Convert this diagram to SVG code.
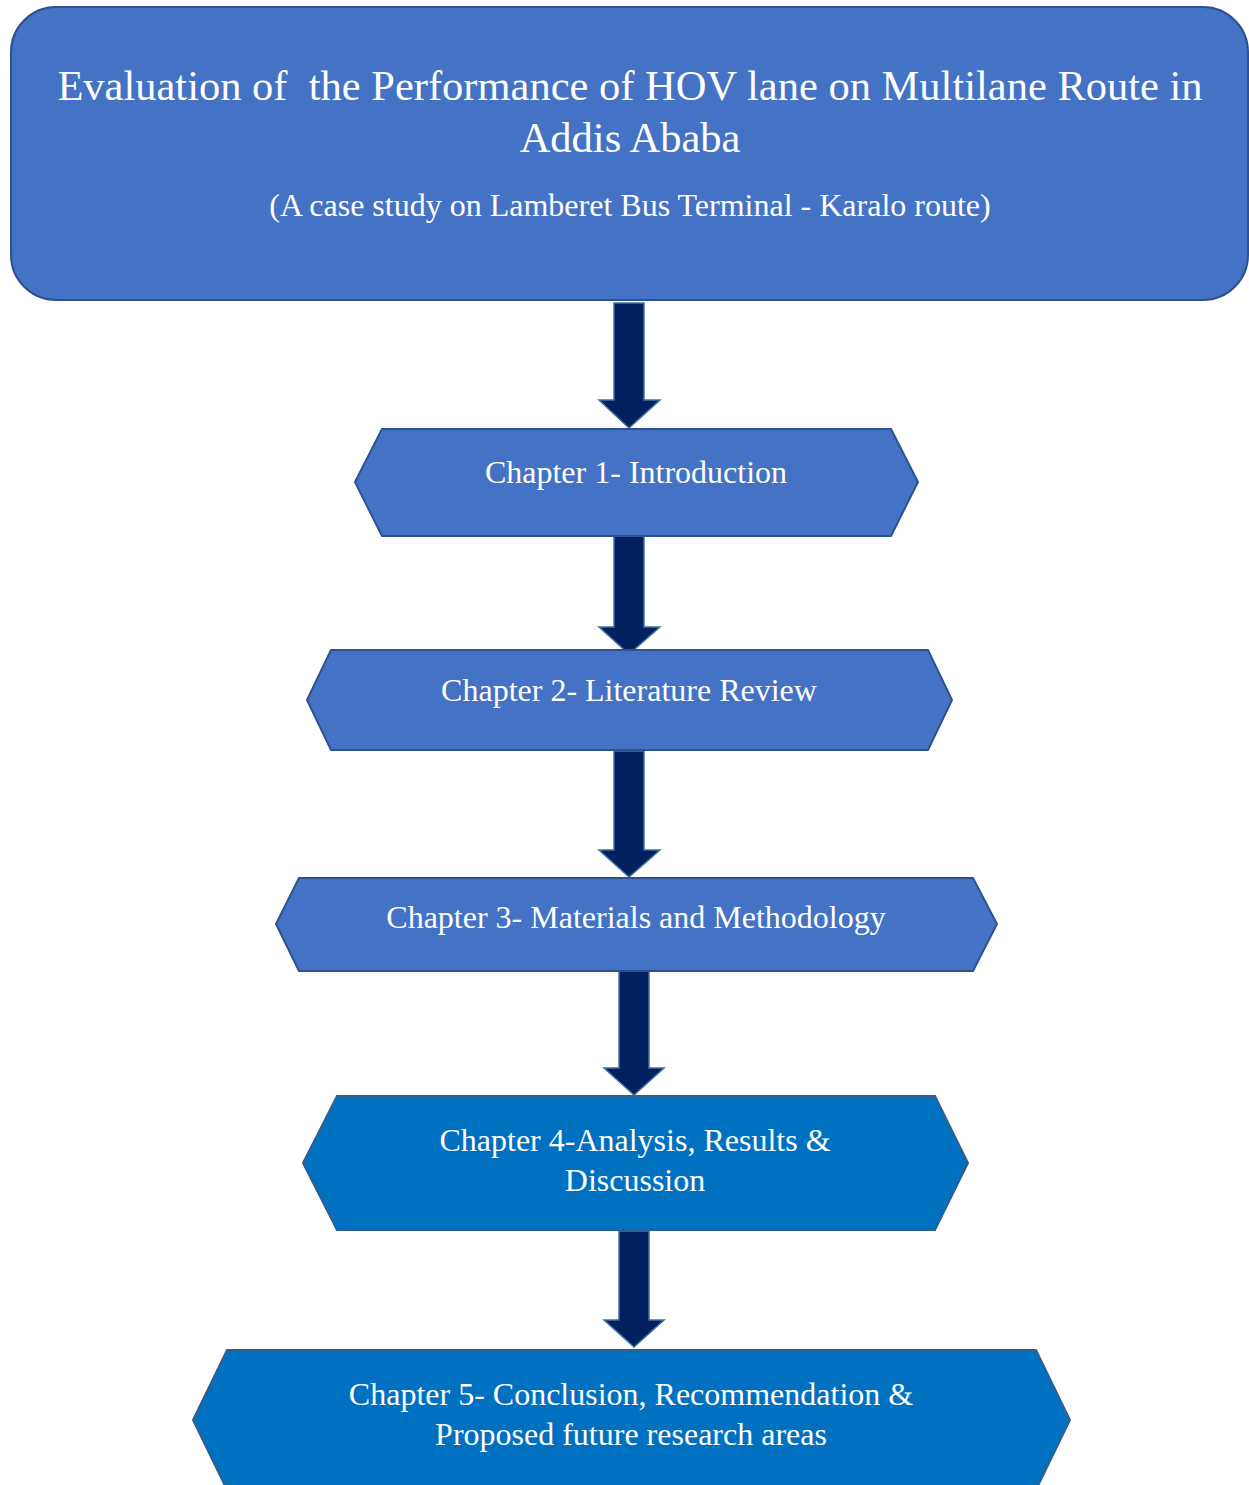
<svg xmlns="http://www.w3.org/2000/svg" width="1249" height="1485" viewBox="0 0 1249 1485">
<style>
.box{fill:#4472C4;stroke:#2F528F;stroke-width:2}
.box2{fill:#0070C0;stroke:#2F5F8F;stroke-width:2}
.arr{fill:#002060;stroke:#41719C;stroke-width:1.5}
text{font-family:"Liberation Serif","Times New Roman",serif;fill:#FFFFFF;text-anchor:middle;white-space:pre}
.t1{font-size:42.5px}
.t2{font-size:32px}
.t3{font-size:32px}
</style>
<rect width="1249" height="1485" fill="#FFFFFF"/>
<g id="connectors">
<path class="arr" d="M614,303 H644 V400 H660 L629,428 L599,400 H614 Z"/>
<path class="arr" d="M614,531 H644 V627 H660 L629,654 L599,627 H614 Z"/>
<path class="arr" d="M614,751 H644 V850 H660 L629,877 L599,850 H614 Z"/>
<path class="arr" d="M619,971 H649 V1068 H664 L634,1095 L604,1068 H619 Z"/>
<path class="arr" d="M619,1231 H649 V1320 H664 L634,1347 L604,1320 H619 Z"/>
</g>
<g id="title">
<rect class="box" x="11" y="7" width="1237" height="293" rx="45" ry="45"/>
<text class="t1" x="630" y="100" xml:space="preserve">Evaluation of  the Performance of HOV lane on Multilane Route in</text>
<text class="t1" x="630" y="152">Addis Ababa</text>
<text class="t2" x="630" y="216">(A case study on Lamberet Bus Terminal - Karalo route)</text>
</g>
<g id="ch1">
<polygon class="box" points="355,482 382,429 891,429 918,482 891,536 382,536"/>
<text class="t3" x="636" y="483">Chapter 1- Introduction</text>
</g>
<g id="ch2">
<polygon class="box" points="307,700 331,650 928,650 952,700 928,750 331,750"/>
<text class="t3" x="629" y="701">Chapter 2- Literature Review</text>
</g>
<g id="ch3">
<polygon class="box" points="276,924 299,878 973,878 997,924 973,971 299,971"/>
<text class="t3" x="636" y="928">Chapter 3- Materials and Methodology</text>
</g>
<g id="ch4">
<polygon class="box2" points="303,1163 337,1096 935,1096 968,1163 935,1230 337,1230"/>
<text class="t3" x="635" y="1151">Chapter 4-Analysis, Results &amp;</text>
<text class="t3" x="635" y="1191">Discussion</text>
</g>
<g id="ch5">
<polygon class="box2" points="193,1420 227,1350 1036,1350 1070,1420 1036,1490 227,1490"/>
<text class="t3" x="631" y="1405">Chapter 5- Conclusion, Recommendation &amp;</text>
<text class="t3" x="631" y="1445">Proposed future research areas</text>
</g>
</svg>
